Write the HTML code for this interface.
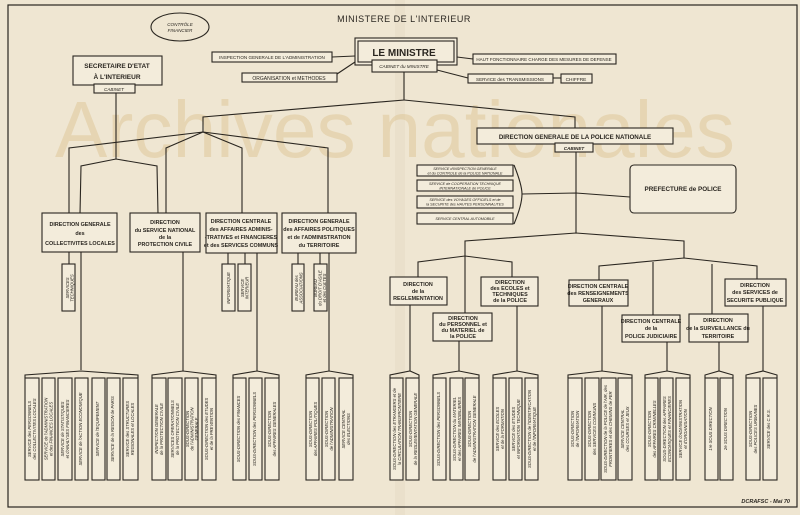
<!DOCTYPE html>
<html><head><meta charset="utf-8"><style>
html,body{margin:0;padding:0;background:#efe6d2}
svg{display:block}
text{font-family:"Liberation Sans",sans-serif;fill:#2a2620}
.b{fill:#f3ecdb;stroke:#2a2620;stroke-width:1.1}
.l{fill:none;stroke:#2a2620;stroke-width:1.1}
.h{font-size:5.4px;font-weight:bold;text-anchor:middle}
.s{font-size:4.6px;text-anchor:middle;font-style:italic}
.v{font-size:4.2px;text-anchor:middle;font-style:italic}
</style></head><body>
<svg width="800" height="515" viewBox="0 0 800 515" xmlns="http://www.w3.org/2000/svg">
<rect width="800" height="515" fill="#efe6d2"/>
<rect x="395" y="0" width="10" height="515" fill="#e6dcc6" opacity="0.6"/>
<rect x="8" y="5" width="789" height="502" fill="none" stroke="#2a2620" stroke-width="1.2"/>
<text x="55" y="157" font-size="80" textLength="680" lengthAdjust="spacingAndGlyphs" opacity="0.45" style="fill:#dcc28e" font-family="Liberation Sans">Archives nationales</text>

<text x="404" y="22" font-size="9" text-anchor="middle" letter-spacing="0.5">MINISTERE DE L'INTERIEUR</text>
<ellipse cx="180" cy="27" rx="29" ry="14" class="l" stroke-width="1.5"/>
<text x="180" y="26" class="s">CONTRÔLE</text><text x="180" y="32" class="s">FINANCIER</text>

<rect x="355" y="38" width="102" height="27" class="b" stroke-width="2"/>
<rect x="358" y="41" width="96" height="21" class="l"/>
<text x="404" y="56" font-size="10" font-weight="bold" text-anchor="middle">LE MINISTRE</text>
<rect x="372" y="60" width="65" height="12" class="b"/>
<text x="404" y="68" class="s">CABINET du MINISTRE</text>
<rect x="212" y="52" width="120" height="10" class="b"/><text x="272" y="59" font-size="4.6" text-anchor="middle">INSPECTION GENERALE DE L'ADMINISTRATION</text>
<rect x="242" y="73" width="95" height="9" class="b"/><text x="289" y="80" font-size="5" text-anchor="middle">ORGANISATION et METHODES</text>
<line x1="332" y1="57" x2="355" y2="56" class="l"/><line x1="337" y1="74" x2="355" y2="62" class="l"/>
<rect x="473" y="54" width="143" height="10" class="b"/><text x="544" y="61" font-size="4.5" text-anchor="middle">HAUT FONCTIONNAIRE CHARGE DES MESURES DE DEFENSE</text>
<rect x="468" y="74" width="85" height="9" class="b"/><text x="510" y="81" font-size="4.6" text-anchor="middle">SERVICE des TRANSMISSIONS</text>
<rect x="561" y="74" width="31" height="9" class="b"/><text x="576" y="81" font-size="4.8" text-anchor="middle">CHIFFRE</text>
<line x1="457" y1="57" x2="473" y2="59" class="l"/><line x1="437" y1="70" x2="468" y2="78" class="l"/><line x1="553" y1="78" x2="561" y2="78" class="l"/>

<rect x="73" y="56" width="89" height="29" class="b"/>
<text x="117" y="68" font-size="6.5" font-weight="bold" text-anchor="middle">SECRETAIRE D'ETAT</text>
<text x="117" y="79" font-size="6.5" font-weight="bold" text-anchor="middle">À L'INTERIEUR</text>
<rect x="94" y="84" width="41" height="9" class="b"/><text x="114" y="91" class="s">CABINET</text>
<polyline points="116,93 116,159" class="l"/>
<polyline points="80,214 81,166 116,159 157,166 158,214" class="l"/>

<polyline points="404,72 404,100 203,117 203,132" class="l" stroke-width="1.6"/>
<polyline points="404,100 575,117 575,128" class="l" stroke-width="1.2"/>
<polyline points="69,213 69,148 203,132 166,148 166,213" class="l"/>
<polyline points="203,132 242,148 242,213" class="l"/>
<polyline points="203,132 328,148 328,213" class="l"/>

<rect x="42" y="213" width="75" height="39" class="b"/>
<text x="80" y="226" class="h">DIRECTION GENERALE</text><text x="80" y="235" class="h" font-size="4.3">des</text><text x="80" y="245" class="h" font-size="5">COLLECTIVITES LOCALES</text>
<rect x="130" y="213" width="70" height="39" class="b"/>
<text x="165" y="224" class="h">DIRECTION</text><text x="165" y="232" class="h" font-size="4.8">du SERVICE NATIONAL</text><text x="165" y="239" class="h" font-size="4.3">de la</text><text x="165" y="246" class="h" font-size="5">PROTECTION CIVILE</text>
<rect x="206" y="213" width="71" height="40" class="b"/>
<text x="241" y="223" class="h" font-size="4.7">DIRECTION CENTRALE</text><text x="241" y="231" class="h" font-size="4.2">des AFFAIRES ADMINIS-</text><text x="241" y="239" class="h" font-size="4.2">-TRATIVES et FINANCIERES</text><text x="241" y="247" class="h" font-size="4.2">et des SERVICES COMMUNS</text>
<rect x="282" y="213" width="74" height="40" class="b"/>
<text x="319" y="223" class="h" font-size="4.7">DIRECTION GENERALE</text><text x="319" y="231" class="h" font-size="4.2">des AFFAIRES POLITIQUES</text><text x="319" y="239" class="h" font-size="4.2">et de l'ADMINISTRATION</text><text x="319" y="247" class="h" font-size="4.7">du TERRITOIRE</text>

<line x1="69" y1="252" x2="69" y2="264" class="l"/><rect x="62" y="264" width="13" height="47" class="b"/>
<text transform="translate(70,288) rotate(-90)" class="v"><tspan x="0" y="-1">SERVICES</tspan><tspan x="0" y="3.5">TECHNIQUES</tspan></text>
<line x1="228" y1="253" x2="228" y2="264" class="l"/><rect x="222" y="264" width="13" height="47" class="b"/>
<text transform="translate(230,288) rotate(-90)" class="v">INFORMATIQUE</text>
<line x1="245" y1="253" x2="245" y2="264" class="l"/><rect x="238" y="264" width="13" height="47" class="b"/>
<text transform="translate(245,288) rotate(-90)" class="v"><tspan x="0" y="-1">SERVICE</tspan><tspan x="0" y="3.5">INTERIEUR</tspan></text>
<line x1="298" y1="253" x2="298" y2="264" class="l"/><rect x="292" y="264" width="12" height="47" class="b"/>
<text transform="translate(299,288) rotate(-90)" class="v"><tspan x="0" y="-1">BUREAU des</tspan><tspan x="0" y="3.5">ASSOCIATIONS</tspan></text>
<line x1="320" y1="253" x2="320" y2="264" class="l"/><rect x="314" y="264" width="13" height="47" class="b"/>
<text transform="translate(320,288) rotate(-90)" class="v"><tspan x="0" y="-3">BUREAU</tspan><tspan x="0" y="1.5">du DROIT D'ASILE</tspan><tspan x="0" y="6">et des CULTES</tspan></text>

<rect x="477" y="128" width="196" height="16" class="b"/>
<text x="575" y="139" font-size="6.2" font-weight="bold" text-anchor="middle">DIRECTION GENERALE DE LA POLICE NATIONALE</text>
<rect x="555" y="143" width="38" height="9" class="b" stroke-width="1.5"/><text x="574" y="150" class="s" font-weight="bold">CABINET</text>
<line x1="576" y1="152" x2="576" y2="233" class="l"/>
<rect x="417" y="165" width="96" height="11" class="b"/><text x="465" y="170" font-size="3.7" text-anchor="middle" font-style="italic">SERVICE d'INSPECTION GENERALE</text><text x="465" y="174.5" font-size="3.7" text-anchor="middle" font-style="italic">et du CONTROLE de la POLICE NATIONALE</text>
<rect x="417" y="180" width="96" height="11" class="b"/><text x="465" y="185" font-size="3.7" text-anchor="middle" font-style="italic">SERVICE de COOPERATION TECHNIQUE</text><text x="465" y="189.5" font-size="3.7" text-anchor="middle" font-style="italic">INTERNATIONALE de POLICE</text>
<rect x="417" y="196" width="96" height="12" class="b"/><text x="465" y="201" font-size="3.7" text-anchor="middle" font-style="italic">SERVICE des VOYAGES OFFICIELS et de</text><text x="465" y="205.5" font-size="3.7" text-anchor="middle" font-style="italic">la SECURITE des HAUTES PERSONNALITES</text>
<rect x="417" y="213" width="96" height="11" class="b"/><text x="465" y="220" font-size="3.7" text-anchor="middle" font-style="italic">SERVICE CENTRAL AUTOMOBILE</text>
<path d="M514,165 Q522,185 522,194 Q522,205 514,224" class="l"/>
<polyline points="522,194 576,193 630,197" class="l"/>
<rect x="630" y="165" width="106" height="48" rx="4" class="b"/>
<text x="683" y="191" font-size="6.3" font-weight="bold" text-anchor="middle">PREFECTURE de POLICE</text>

<polyline points="465,256 465,241 576,233 684,241 684,258" class="l"/>
<polyline points="418,277 418,262 465,256 512,262 512,277" class="l"/>
<line x1="465" y1="256" x2="465" y2="313" class="l"/>
<polyline points="599,280 599,266 684,258 757,266 757,279" class="l"/>
<polyline points="653,315 653,262" class="l"/><polyline points="712,314 712,264" class="l"/>

<rect x="390" y="277" width="57" height="28" class="b"/><text x="418" y="286" class="h" font-size="5">DIRECTION</text><text x="418" y="293" class="h" font-size="4">de la</text><text x="418" y="300" class="h" font-size="4.6">REGLEMENTATION</text>
<rect x="481" y="277" width="57" height="29" class="b"/><text x="510" y="284" class="h" font-size="4.8">DIRECTION</text><text x="510" y="290" class="h" font-size="4.4">des ECOLES et</text><text x="510" y="296" class="h" font-size="4.4">TECHNIQUES</text><text x="510" y="302" class="h" font-size="4.4">de la POLICE</text>
<rect x="433" y="313" width="59" height="28" class="b"/><text x="463" y="320" class="h" font-size="4.8">DIRECTION</text><text x="463" y="326" class="h" font-size="4.4">du PERSONNEL et</text><text x="463" y="332" class="h" font-size="4.4">du MATERIEL de</text><text x="463" y="338" class="h" font-size="4.6">la POLICE</text>
<rect x="569" y="280" width="59" height="26" class="b"/><text x="598" y="288" class="h" font-size="4.3">DIRECTION CENTRALE</text><text x="598" y="295" class="h" font-size="4.1">des RENSEIGNEMENTS</text><text x="598" y="302" class="h" font-size="4.6">GENERAUX</text>
<rect x="622" y="315" width="58" height="27" class="b"/><text x="651" y="323" class="h" font-size="4.3">DIRECTION CENTRALE</text><text x="651" y="330" class="h" font-size="4">de la</text><text x="651" y="338" class="h" font-size="4.6">POLICE JUDICIAIRE</text>
<rect x="689" y="314" width="59" height="28" class="b"/><text x="718" y="322" class="h" font-size="4.8">DIRECTION</text><text x="718" y="330" class="h" font-size="4">de la SURVEILLANCE du</text><text x="718" y="338" class="h" font-size="4.8">TERRITOIRE</text>
<rect x="725" y="279" width="61" height="27" class="b"/><text x="755" y="287" class="h" font-size="4.8">DIRECTION</text><text x="755" y="294" class="h" font-size="4.4">des SERVICES de</text><text x="755" y="302" class="h" font-size="4.3">SECURITE PUBLIQUE</text>

<g>
<line x1="81" y1="252" x2="81" y2="370" class="l"/>
<line x1="183" y1="252" x2="183" y2="371" class="l"/>
<line x1="257" y1="253" x2="257" y2="371" class="l"/>
<line x1="329" y1="253" x2="329" y2="371" class="l"/>
<line x1="410" y1="305" x2="410" y2="371" class="l"/>
<line x1="459" y1="341" x2="459" y2="371" class="l"/>
<line x1="517" y1="306" x2="517" y2="371" class="l"/>
<line x1="602" y1="306" x2="602" y2="371" class="l"/>
<line x1="667" y1="342" x2="667" y2="371" class="l"/>
<line x1="719" y1="342" x2="719" y2="371" class="l"/>
<line x1="763" y1="306" x2="763" y2="371" class="l"/>
</g>
<g>
<polyline points="25,378 25,375 81,371 138,375 138,378" class="l"/>
<polyline points="152,378 152,375 183,371 216,375 216,378" class="l"/>
<polyline points="233,378 233,375 257,371 279,375 279,378" class="l"/>
<polyline points="306,378 306,375 329,371 353,375 353,378" class="l"/>
<polyline points="390,378 390,375 410,371 419,375 419,378" class="l"/>
<polyline points="433,378 433,375 459,371 479,375 479,378" class="l"/>
<polyline points="493,378 493,375 517,371 538,375 538,378" class="l"/>
<polyline points="568,378 568,375 602,371 632,375 632,378" class="l"/>
<polyline points="645,378 645,375 667,371 690,375 690,378" class="l"/>
<polyline points="705,378 705,375 719,371 733,375 733,378" class="l"/>
<polyline points="746,378 746,375 763,371 777,375 777,378" class="l"/>
</g>

<g>
<rect x="25" y="378" width="14" height="102" class="b"/><text transform="translate(32,429) rotate(-90)" class="v"><tspan x="0" y="-1">SERVICE des PERSONNELS</tspan><tspan x="0" y="4">des COLLECTIVITES LOCALES</tspan></text>
<rect x="42" y="378" width="13" height="102" class="b"/><text transform="translate(48.5,429) rotate(-90)" class="v"><tspan x="0" y="-1">SERVICE de l'ADMINISTRATION</tspan><tspan x="0" y="4">et des FINANCES LOCALES</tspan></text>
<rect x="58" y="378" width="14" height="102" class="b"/><text transform="translate(65,429) rotate(-90)" class="v"><tspan x="0" y="-1">SERVICE de STATISTIQUES</tspan><tspan x="0" y="4">et d'ANALYSES FINANCIERES</tspan></text>
<rect x="75" y="378" width="13" height="102" class="b"/><text transform="translate(82,429) rotate(-90)" class="v">SERVICE de l'ACTION ECONOMIQUE</text>
<rect x="92" y="378" width="13" height="102" class="b"/><text transform="translate(99,429) rotate(-90)" class="v">SERVICE de l'EQUIPEMENT</text>
<rect x="107" y="378" width="13" height="102" class="b"/><text transform="translate(114,429) rotate(-90)" class="v">SERVICE de la REGION de PARIS</text>
<rect x="123" y="378" width="15" height="102" class="b"/><text transform="translate(130,429) rotate(-90)" class="v"><tspan x="0" y="-1">SERVICE des STRUCTURES</tspan><tspan x="0" y="4">REGIONALES et LOCALES</tspan></text>

<rect x="152" y="378" width="14" height="102" class="b"/><text transform="translate(159,429) rotate(-90)" class="v"><tspan x="0" y="-1">INSPECTION GENERALE</tspan><tspan x="0" y="4">de la PROTECTION CIVILE</tspan></text>
<rect x="168" y="378" width="14" height="102" class="b"/><text transform="translate(175,429) rotate(-90)" class="v"><tspan x="0" y="-1">SERVICES OPERATIONNELS</tspan><tspan x="0" y="4">de la PROTECTION CIVILE</tspan></text>
<rect x="185" y="378" width="13" height="102" class="b"/><text transform="translate(192,429) rotate(-90)" class="v"><tspan x="0" y="-3">SOUS-DIRECTION</tspan><tspan x="0" y="1.5">de l'ADMINISTRATION</tspan><tspan x="0" y="6">GENERALE</tspan></text>
<rect x="202" y="378" width="14" height="102" class="b"/><text transform="translate(209,429) rotate(-90)" class="v"><tspan x="0" y="-1">SOUS-DIRECTION des ETUDES</tspan><tspan x="0" y="4">et de la PREVENTION</tspan></text>

<rect x="233" y="378" width="13" height="102" class="b"/><text transform="translate(240,429) rotate(-90)" class="v">SOUS-DIRECTION des FINANCES</text>
<rect x="249" y="378" width="13" height="102" class="b"/><text transform="translate(256,429) rotate(-90)" class="v">SOUS-DIRECTION des PERSONNELS</text>
<rect x="265" y="378" width="14" height="102" class="b"/><text transform="translate(272,429) rotate(-90)" class="v"><tspan x="0" y="-1">SOUS-DIRECTION</tspan><tspan x="0" y="4">des AFFAIRES GENERALES</tspan></text>

<rect x="306" y="378" width="13" height="102" class="b"/><text transform="translate(313,429) rotate(-90)" class="v"><tspan x="0" y="-1">SOUS-DIRECTION</tspan><tspan x="0" y="4">des AFFAIRES POLITIQUES</tspan></text>
<rect x="322" y="378" width="13" height="102" class="b"/><text transform="translate(329,429) rotate(-90)" class="v"><tspan x="0" y="-1">SOUS-DIRECTION</tspan><tspan x="0" y="4">de l'ADMINISTRATION</tspan></text>
<rect x="339" y="378" width="14" height="102" class="b"/><text transform="translate(346,429) rotate(-90)" class="v"><tspan x="0" y="-1">SERVICE CENTRAL</tspan><tspan x="0" y="4">des ELECTIONS</tspan></text>

<rect x="390" y="378" width="13" height="102" class="b"/><text transform="translate(397,429) rotate(-90)" class="v" font-size="3.8"><tspan x="0" y="-1">SOUS-DIRECTION des ETRANGERS et de</tspan><tspan x="0" y="4">la CIRCULATION TRANSFRONTIERE</tspan></text>
<rect x="406" y="378" width="13" height="102" class="b"/><text transform="translate(413,429) rotate(-90)" class="v"><tspan x="0" y="-1">SOUS-DIRECTION</tspan><tspan x="0" y="4">de la REGLEMENTATION GENERALE</tspan></text>

<rect x="433" y="378" width="13" height="102" class="b"/><text transform="translate(440,429) rotate(-90)" class="v">SOUS-DIRECTION des PERSONNELS</text>
<rect x="450" y="378" width="13" height="102" class="b"/><text transform="translate(457,429) rotate(-90)" class="v"><tspan x="0" y="-1">SOUS-DIRECTION du MATERIEL</tspan><tspan x="0" y="4">et des AFFAIRES IMMOBILIERES</tspan></text>
<rect x="465" y="378" width="14" height="102" class="b"/><text transform="translate(472,429) rotate(-90)" class="v"><tspan x="0" y="-1">SOUS-DIRECTION</tspan><tspan x="0" y="4">de l'ADMINISTRATION GENERALE</tspan></text>

<rect x="493" y="378" width="13" height="102" class="b"/><text transform="translate(500,429) rotate(-90)" class="v"><tspan x="0" y="-1">SERVICE des ECOLES</tspan><tspan x="0" y="4">et de la FORMATION</tspan></text>
<rect x="509" y="378" width="13" height="102" class="b"/><text transform="translate(516,429) rotate(-90)" class="v"><tspan x="0" y="-1">SERVICE des ETUDES</tspan><tspan x="0" y="4">et INFORMATION TECHNIQUE</tspan></text>
<rect x="525" y="378" width="13" height="102" class="b"/><text transform="translate(532,429) rotate(-90)" class="v" font-size="3.8"><tspan x="0" y="-1">SOUS-DIRECTION de l'IDENTIFICATION</tspan><tspan x="0" y="4">et de l'INFORMATIQUE</tspan></text>

<rect x="568" y="378" width="14" height="102" class="b"/><text transform="translate(575,429) rotate(-90)" class="v"><tspan x="0" y="-1">SOUS-DIRECTION</tspan><tspan x="0" y="4">de l'INFORMATION</tspan></text>
<rect x="585" y="378" width="14" height="102" class="b"/><text transform="translate(592,429) rotate(-90)" class="v"><tspan x="0" y="-1">SOUS-DIRECTION</tspan><tspan x="0" y="4">des SERVICES COMMUNS</tspan></text>
<rect x="601" y="378" width="15" height="102" class="b"/><text transform="translate(608,429) rotate(-90)" class="v" font-size="3.6"><tspan x="0" y="-1">SOUS-DIRECTION de la POLICE de l'AIR, des</tspan><tspan x="0" y="4">FRONTIERES et des CHEMINS de FER</tspan></text>
<rect x="618" y="378" width="14" height="102" class="b"/><text transform="translate(625,429) rotate(-90)" class="v"><tspan x="0" y="-1">SERVICE CENTRAL</tspan><tspan x="0" y="4">des COURSES et JEUX</tspan></text>

<rect x="645" y="378" width="13" height="102" class="b"/><text transform="translate(652,429) rotate(-90)" class="v"><tspan x="0" y="-1">SOUS-DIRECTION</tspan><tspan x="0" y="4">des AFFAIRES CRIMINELLES</tspan></text>
<rect x="660" y="378" width="13" height="102" class="b"/><text transform="translate(667,429) rotate(-90)" class="v"><tspan x="0" y="-1">SOUS-DIRECTION des AFFAIRES</tspan><tspan x="0" y="4">ECONOMIQUES et FINANCIERES</tspan></text>
<rect x="676" y="378" width="14" height="102" class="b"/><text transform="translate(683,429) rotate(-90)" class="v"><tspan x="0" y="-1">SERVICE d'ADMINISTRATION</tspan><tspan x="0" y="4">et d'ORGANISATION</tspan></text>

<rect x="705" y="378" width="13" height="102" class="b"/><text transform="translate(712,429) rotate(-90)" class="v">1re SOUS DIRECTION</text>
<rect x="720" y="378" width="13" height="102" class="b"/><text transform="translate(727,429) rotate(-90)" class="v">2e SOUS DIRECTION</text>

<rect x="746" y="378" width="14" height="102" class="b"/><text transform="translate(753,429) rotate(-90)" class="v"><tspan x="0" y="-1">SOUS-DIRECTION</tspan><tspan x="0" y="4">des POLICES URBAINES</tspan></text>
<rect x="763" y="378" width="14" height="102" class="b"/><text transform="translate(770,429) rotate(-90)" class="v">SERVICE des C.R.S.</text>
</g>
<text x="790" y="503" font-size="5.5" font-style="italic" font-weight="bold" text-anchor="end">DCRAFSC - Mai 70</text>
</svg>
</body></html>
